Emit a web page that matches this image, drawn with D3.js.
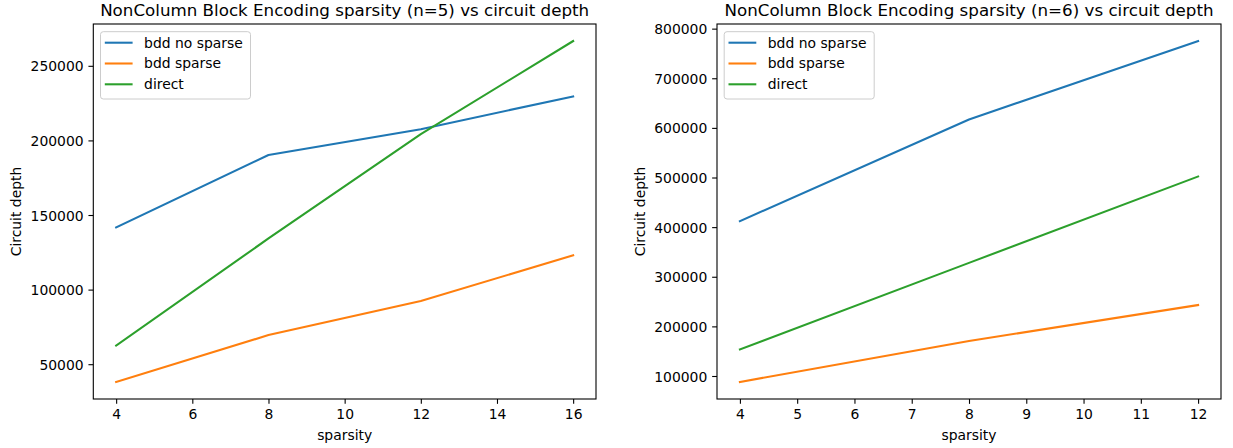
<!DOCTYPE html>
<html>
<head>
<meta charset="utf-8">
<script src="https://cdn.jsdelivr.net/npm/d3@7"></script>
<style>
  html, body { margin: 0; padding: 0; background: #fff; }
  svg { display: block; font-family: 'DejaVu Sans', sans-serif; }
  .tick text { font-size: 13.9px; fill: #000; }
  .tick line { stroke: #000; stroke-width: 1.1; }
</style>
</head>
<body>
<div id="chart"></div>
<script>
// ---- data ----
const seriesNames = ['bdd no sparse', 'bdd sparse', 'direct'];
const seriesColors = ['#1f77b4', '#ff7f0e', '#2ca02c'];

// n = 5
const sparsity5 = [4, 8, 12, 16];
const bddNoSparse5 = [141700, 190200, 207500, 229500];
const bddSparse5 = [38100, 69500, 92400, 123000];
const direct5 = [62500, 134300, 204200, 266600];
const xTicks5 = [4, 6, 8, 10, 12, 14, 16];
const yTicks5 = [50000, 100000, 150000, 200000, 250000];

// n = 6
const sparsity6 = [4, 8, 12];
const bddNoSparse6 = [412000, 617000, 775000];
const bddSparse6 = [88000, 170500, 243000];
const direct6 = [153500, 328000, 502000];
const xTicks6 = [4, 5, 6, 7, 8, 9, 10, 11, 12];
const yTicks6 = [100000, 200000, 300000, 400000, 500000, 600000, 700000, 800000];

const W = 1233, H = 448;
const TOP = 24, BOTTOM = 399;
const TICK = 4.86;

const svg = d3.select('#chart').append('svg')
  .attr('width', W).attr('height', H);
svg.append('rect').attr('width', W).attr('height', H).attr('fill', '#fff');

// matplotlib-like 5% auto margins
function padded(ext) {
  const d = (ext[1] - ext[0]) * 0.05;
  return [ext[0] - d, ext[1] + d];
}

function panel(opts) {
  const { left, right, xs, series, xTicks, yTicks, title, ylabelX } = opts;
  const g = svg.append('g');

  const x = d3.scaleLinear().domain(padded(d3.extent(xs))).range([left, right]);
  const allY = series.flat();
  const y = d3.scaleLinear().domain(padded(d3.extent(allY))).range([BOTTOM, TOP]);

  // lines
  const line = d3.line().x((d, i) => x(xs[i])).y(d => y(d));
  series.forEach((vals, i) => {
    g.append('path')
      .datum(vals)
      .attr('d', line)
      .attr('fill', 'none')
      .attr('stroke', seriesColors[i])
      .attr('stroke-width', 2.08)
      .attr('stroke-linejoin', 'round')
      .attr('stroke-linecap', 'square');
  });

  // axes
  const xAx = g.append('g').attr('transform', `translate(0,${BOTTOM})`)
    .call(d3.axisBottom(x).tickValues(xTicks).tickFormat(d3.format('d'))
      .tickSize(TICK).tickPadding(4.86).tickSizeOuter(0));
  xAx.select('.domain').remove();
  xAx.selectAll('text').attr('font-family', 'DejaVu Sans').attr('dy', '0.76em');

  const yAx = g.append('g').attr('transform', `translate(${left},0)`)
    .call(d3.axisLeft(y).tickValues(yTicks).tickFormat(d3.format('d'))
      .tickSize(TICK).tickPadding(4.86).tickSizeOuter(0));
  yAx.select('.domain').remove();
  yAx.selectAll('text').attr('font-family', 'DejaVu Sans').attr('dy', '0.36em');

  // frame
  g.append('rect')
    .attr('x', left).attr('y', TOP)
    .attr('width', right - left).attr('height', BOTTOM - TOP)
    .attr('fill', 'none').attr('stroke', '#000').attr('stroke-width', 1.1);

  // title + labels
  g.append('text')
    .attr('x', (left + right) / 2).attr('y', 15.7)
    .attr('text-anchor', 'middle')
    .style('font-size', '16.7px')
    .text(title);
  g.append('text')
    .attr('x', (left + right) / 2).attr('y', 440)
    .attr('text-anchor', 'middle')
    .style('font-size', '13.9px')
    .text('sparsity');
  g.append('text')
    .attr('transform', `translate(${ylabelX},${(TOP + BOTTOM) / 2}) rotate(-90)`)
    .attr('text-anchor', 'middle')
    .style('font-size', '13.9px')
    .text('Circuit depth');

  // legend
  const lg = g.append('g').attr('transform', `translate(${left + 7.2},${TOP + 7.7})`);
  lg.append('rect')
    .attr('width', 150).attr('height', 67.3)
    .attr('rx', 2.8)
    .attr('fill', '#fff').attr('fill-opacity', 0.8)
    .attr('stroke', '#cccccc').attr('stroke-width', 1);
  seriesNames.forEach((name, i) => {
    const cy = 11 + i * 20.8;
    lg.append('line')
      .attr('x1', 4.3).attr('x2', 32.1)
      .attr('y1', cy).attr('y2', cy)
      .attr('stroke', seriesColors[i]).attr('stroke-width', 2.08);
    lg.append('text')
      .attr('x', 43.6).attr('y', cy).attr('dy', '0.35em')
      .style('font-size', '13.9px')
      .text(name);
  });
}

panel({
  left: 93.3, right: 596,
  xs: sparsity5,
  series: [bddNoSparse5, bddSparse5, direct5],
  xTicks: xTicks5, yTicks: yTicks5,
  title: 'NonColumn Block Encoding sparsity (n=5) vs circuit depth',
  ylabelX: 21
});

panel({
  left: 717, right: 1221,
  xs: sparsity6,
  series: [bddNoSparse6, bddSparse6, direct6],
  xTicks: xTicks6, yTicks: yTicks6,
  title: 'NonColumn Block Encoding sparsity (n=6) vs circuit depth',
  ylabelX: 644.5
});
</script>
</body>
</html>
